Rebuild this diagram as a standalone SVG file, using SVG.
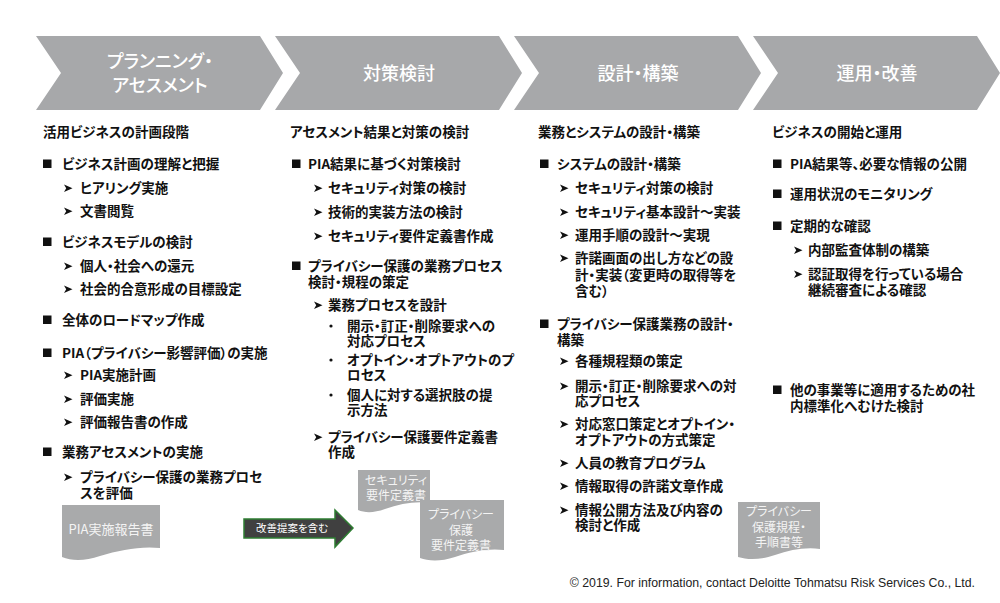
<svg xmlns="http://www.w3.org/2000/svg" width="1000" height="603" viewBox="0 0 1000 603">
<style>
text{font-family:"Noto Sans CJK JP","Liberation Sans",sans-serif;font-feature-settings:"palt";}
.ch{fill:#ffffff;font-size:18px;font-weight:500;text-anchor:middle;}
.chev{fill:#a7a8aa;}
.h{font-size:13.5px;font-weight:bold;fill:#111;}
.t{font-size:13.5px;font-weight:bold;fill:#111;}
.doc{fill:#a9aaab;}
.dt{font-size:12px;fill:#f4f4f4;text-anchor:middle;}
.ft{font-family:"Liberation Sans",Arial,sans-serif;font-size:12.3px;fill:#222;text-anchor:end;}
</style>
<defs>
<path id="ar" d="M0,-8.5 L8.5,-4.8 L0,-1 L2.2,-4.8 Z" fill="#111"/>
<rect id="sq" x="0" y="-9.5" width="8.5" height="8.5" fill="#111"/>
<circle id="dot" cx="0" cy="-5" r="1.6" fill="#111"/>
</defs>
<rect width="1000" height="603" fill="#ffffff"/>

<g id="phase1">
<path class="chev" d="M36,36 H260 L283,73 L260,110 H36 L61,73 Z"/>
<text class="ch" x="160"><tspan x="160" y="68">プランニング・</tspan><tspan x="160" y="92">アセスメント</tspan></text>
</g>
<g id="phase2">
<path class="chev" d="M275,36 H499 L522,73 L499,110 H275 L300,73 Z"/>
<text class="ch" x="399" y="80">対策検討</text>
</g>
<g id="phase3">
<path class="chev" d="M514,36 H738 L761,73 L738,110 H514 L539,73 Z"/>
<text class="ch" x="638" y="80">設計・構築</text>
</g>
<g id="phase4">
<path class="chev" d="M753,36 H977 L1000,73 L977,110 H753 L778,73 Z"/>
<text class="ch" x="877" y="80">運用・改善</text>
</g>

<g id="col1">
<text class="h" x="43" y="137">活用ビジネスの計画段階</text>
<use href="#sq" x="43" y="169"/><text class="t" x="62" y="169">ビジネス計画の理解と把握</text>
<use href="#ar" x="64" y="193"/><text class="t" x="80" y="193">ヒアリング実施</text>
<use href="#ar" x="64" y="216"/><text class="t" x="80" y="216">文書閲覧</text>
<use href="#sq" x="43" y="247"/><text class="t" x="62" y="247">ビジネスモデルの検討</text>
<use href="#ar" x="64" y="271"/><text class="t" x="80" y="271">個人・社会への還元</text>
<use href="#ar" x="64" y="294"/><text class="t" x="80" y="294">社会的合意形成の目標設定</text>
<use href="#sq" x="43" y="325"/><text class="t" x="62" y="325">全体のロードマップ作成</text>
<use href="#sq" x="43" y="358"/><text class="t" x="62" y="358">PIA（プライバシー影響評価）の実施</text>
<use href="#ar" x="64" y="380"/><text class="t" x="80" y="380">PIA実施計画</text>
<use href="#ar" x="64" y="404"/><text class="t" x="80" y="404">評価実施</text>
<use href="#ar" x="64" y="427"/><text class="t" x="80" y="427">評価報告書の作成</text>
<use href="#sq" x="43" y="457"/><text class="t" x="62" y="457">業務アセスメントの実施</text>
<use href="#ar" x="64" y="482"/><text class="t"><tspan x="80" y="482">プライバシー保護の業務プロセ</tspan><tspan x="80" y="498">スを評価</tspan></text>
</g>

<g id="col2">
<text class="h" x="290" y="137">アセスメント結果と対策の検討</text>
<use href="#sq" x="292" y="169"/><text class="t" x="308" y="169">PIA結果に基づく対策検討</text>
<use href="#ar" x="314" y="193"/><text class="t" x="328" y="193">セキュリティ対策の検討</text>
<use href="#ar" x="314" y="217"/><text class="t" x="328" y="217">技術的実装方法の検討</text>
<use href="#ar" x="314" y="241"/><text class="t" x="328" y="241">セキュリティ要件定義書作成</text>
<use href="#sq" x="292" y="271"/><text class="t"><tspan x="308" y="271">プライバシー保護の業務プロセス</tspan><tspan x="308" y="287">検討・規程の策定</tspan></text>
<use href="#ar" x="314" y="310"/><text class="t" x="328" y="310">業務プロセスを設計</text>
<use href="#dot" x="331" y="331"/><text class="t"><tspan x="347" y="331">開示・訂正・削除要求への</tspan><tspan x="347" y="346">対応プロセス</tspan></text>
<use href="#dot" x="331" y="365"/><text class="t"><tspan x="347" y="365">オプトイン・オプトアウトのプ</tspan><tspan x="347" y="380">ロセス</tspan></text>
<use href="#dot" x="331" y="400"/><text class="t"><tspan x="347" y="400">個人に対する選択肢の提</tspan><tspan x="347" y="415">示方法</tspan></text>
<use href="#ar" x="314" y="442"/><text class="t"><tspan x="328" y="442">プライバシー保護要件定義書</tspan><tspan x="328" y="457">作成</tspan></text>
</g>

<g id="col3">
<text class="h" x="538" y="137">業務とシステムの設計・構築</text>
<use href="#sq" x="540" y="169"/><text class="t" x="557" y="169">システムの設計・構築</text>
<use href="#ar" x="560" y="193"/><text class="t" x="575" y="193">セキュリティ対策の検討</text>
<use href="#ar" x="560" y="217"/><text class="t" x="575" y="217">セキュリティ基本設計～実装</text>
<use href="#ar" x="560" y="240"/><text class="t" x="575" y="240">運用手順の設計～実現</text>
<use href="#ar" x="560" y="263"/><text class="t"><tspan x="575" y="263">許諾画面の出し方などの設</tspan><tspan x="575" y="280">計・実装（変更時の取得等を</tspan><tspan x="575" y="296">含む）</tspan></text>
<use href="#sq" x="540" y="329"/><text class="t"><tspan x="557" y="329">プライバシー保護業務の設計・</tspan><tspan x="557" y="345">構築</tspan></text>
<use href="#ar" x="560" y="366"/><text class="t" x="575" y="366">各種規程類の策定</text>
<use href="#ar" x="560" y="391"/><text class="t"><tspan x="575" y="391">開示・訂正・削除要求への対</tspan><tspan x="575" y="406">応プロセス</tspan></text>
<use href="#ar" x="560" y="429"/><text class="t"><tspan x="575" y="429">対応窓口策定とオプトイン・</tspan><tspan x="575" y="445">オプトアウトの方式策定</tspan></text>
<use href="#ar" x="560" y="468"/><text class="t" x="575" y="468">人員の教育プログラム</text>
<use href="#ar" x="560" y="491"/><text class="t" x="575" y="491">情報取得の許諾文章作成</text>
<use href="#ar" x="560" y="515"/><text class="t"><tspan x="575" y="515">情報公開方法及び内容の</tspan><tspan x="575" y="530">検討と作成</tspan></text>
</g>

<g id="col4">
<text class="h" x="772" y="137">ビジネスの開始と運用</text>
<use href="#sq" x="773" y="169"/><text class="t" x="790" y="169">PIA結果等、必要な情報の公開</text>
<use href="#sq" x="773" y="199"/><text class="t" x="790" y="199">運用状況のモニタリング</text>
<use href="#sq" x="773" y="231"/><text class="t" x="790" y="231">定期的な確認</text>
<use href="#ar" x="794" y="255"/><text class="t" x="808" y="255">内部監査体制の構築</text>
<use href="#ar" x="794" y="279"/><text class="t"><tspan x="808" y="279">認証取得を行っている場合</tspan><tspan x="808" y="295">継続審査による確認</tspan></text>
<use href="#sq" x="773" y="395"/><text class="t"><tspan x="790" y="395">他の事業等に適用するための社</tspan><tspan x="790" y="411">内標準化へむけた検討</tspan></text>
</g>

<g id="doc-pia">
<path class="doc" d="M62,505 H160 V548 C140,546 120,550 100,556 C85,561 72,561 62,557 Z"/>
<text class="dt" x="111" y="534" style="font-size:13px">PIA実施報告書</text>
</g>
<g id="doc-security">
<path class="doc" d="M358,470 H430 V503 C415,501 400,504 385,509 C374,513 365,513 358,510 Z"/>
<text class="dt"><tspan x="396" y="485">セキュリティ</tspan><tspan x="396" y="500">要件定義書</tspan></text>
</g>
<g id="doc-privacy">
<path class="doc" d="M420,500 H504 V550 C487,548 470,552 455,557 C440,562 428,561 420,558 Z"/>
<text class="dt"><tspan x="461" y="519">プライバシー</tspan><tspan x="461" y="535">保護</tspan><tspan x="461" y="550">要件定義書</tspan></text>
</g>
<g id="doc-rules">
<path class="doc" d="M738,502 H820 V549 C805,547 790,550 775,555 C760,560 748,560 738,557 Z"/>
<text class="dt"><tspan x="779" y="516">プライバシー</tspan><tspan x="779" y="532">保護規程・</tspan><tspan x="779" y="547">手順書等</tspan></text>
</g>

<g id="connectors">
<path d="M244,519 H335 V510 L353,528 L335,547 V538 H244 Z" fill="#404040" stroke="#2e7d32" stroke-width="1.5"/>
<text x="292" y="532" style="font-size:10.5px;fill:#ffffff;text-anchor:middle">改善提案を含む</text>
</g>

<text class="ft" x="975" y="587">© 2019. For information, contact Deloitte Tohmatsu Risk Services Co., Ltd.</text>
</svg>
